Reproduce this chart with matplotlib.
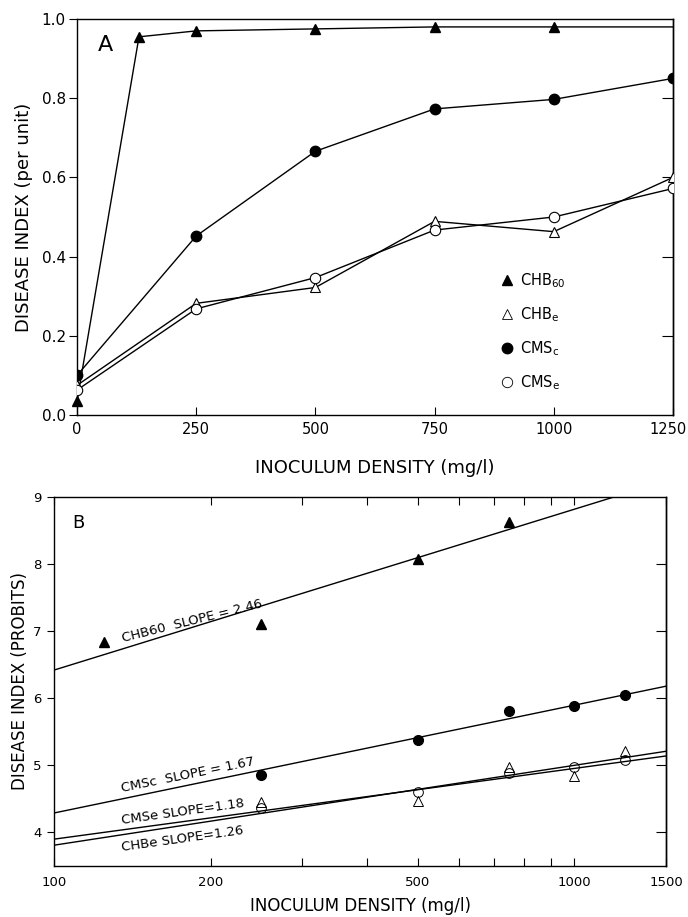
import numpy as np
import matplotlib
matplotlib.use("Agg")
import matplotlib.pyplot as plt
import matplotlib.transforms as mtransforms
from matplotlib.lines import Line2D

plt.rcParams['font.family'] = ['DejaVu Sans']

# Panel A: disease index (per unit) vs inoculum density
dens_chb60_a = [0, 130, 250, 500, 750, 1000, 1250]
chb60_a = [0.035, 0.955, 0.97, 0.975, 0.98, 0.98, 0.98]
dens_a = [0, 250, 500, 750, 1000, 1250]
chbe_a = [0.075, 0.282, 0.322, 0.489, 0.463, 0.600]
cmsc_a = [0.10, 0.452, 0.666, 0.773, 0.797, 0.850]
cmse_a = [0.063, 0.268, 0.347, 0.467, 0.500, 0.572]

# Panel B: probits vs log density
dens_chb60_b = [125, 250, 500, 750]
chb60_b = [6.84, 7.11, 8.07, 8.62]
dens_b = [250, 500, 750, 1000, 1250]
cmsc_b = [4.86, 5.38, 5.81, 5.88, 6.05]
chbe_b = [4.45, 4.47, 4.98, 4.84, 5.22]
cmse_b = [4.37, 4.61, 4.89, 4.98, 5.08]

# fitted probit lines, value at 100 and at 1500 mg/l
fit_x = [100, 1500]
fit_chb60 = [6.42, 9.24]
fit_cmsc = [4.29, 6.18]
fit_cmse = [3.90, 5.14]
fit_chbe = [3.81, 5.21]

fig = plt.figure(figsize=(6.88, 9.17), dpi=100)

# ---------- panel A ----------
ax1 = fig.add_axes([77/688, 1-415/917, 596/688, 396/917])
lw = 1.0
ax1.plot(dens_chb60_a, chb60_a, color='k', lw=lw, marker='^', ms=7,
         mfc='k', mec='k', markevery=slice(0, 6), clip_on=False, zorder=3)
ax1.plot(dens_a, cmsc_a, color='k', lw=lw, marker='o', ms=7.5,
         mfc='k', mec='k', zorder=3)
ax1.plot(dens_a, chbe_a, color='k', lw=lw, marker='^', ms=7.5,
         mfc='white', mec='k', mew=0.8, zorder=3)
ax1.plot(dens_a, cmse_a, color='k', lw=lw, marker='o', ms=7.5,
         mfc='white', mec='k', mew=0.8, zorder=3)

ax1.set_xlim(0, 1250)
ax1.set_ylim(0, 1.0)
ax1.set_xticks([0, 250, 500, 750, 1000, 1250])
ax1.set_yticks([0, 0.2, 0.4, 0.6, 0.8, 1.0])
ax1.set_yticklabels(['0.0', '0.2', '0.4', '0.6', '0.8', '1.0'])
ax1.tick_params(axis='x', direction='in', length=6, width=0.8,
                labelsize=10.5, pad=5)
ax1.tick_params(axis='y', direction='out', length=6, width=0.8,
                labelsize=11, pad=2)
# nudge the last x label so it stays inside the figure
last = ax1.get_xticklabels()[-1]
last.set_transform(last.get_transform() +
                   mtransforms.ScaledTranslation(-5/100, 0, fig.dpi_scale_trans))
r1 = ax1.secondary_yaxis('right')
r1.set_yticks([0.2, 0.4, 0.6, 0.8])
r1.tick_params(direction='in', length=8, width=0.8, labelright=False)
for s in list(ax1.spines.values()) + list(r1.spines.values()):
    s.set_linewidth(1.0)

ax1.set_xlabel('INOCULUM DENSITY (mg/l)', fontsize=13, labelpad=16)
ax1.set_ylabel('DISEASE INDEX (per unit)', fontsize=13, labelpad=6)
ax1.text(0.035, 0.92, 'A', transform=ax1.transAxes, fontsize=16)

handles = [
    Line2D([], [], ls='none', marker='^', ms=7, mfc='k', mec='k'),
    Line2D([], [], ls='none', marker='^', ms=7, mfc='white', mec='k', mew=0.6),
    Line2D([], [], ls='none', marker='o', ms=7.5, mfc='k', mec='k'),
    Line2D([], [], ls='none', marker='o', ms=7.5, mfc='white', mec='k', mew=0.6),
]
labels = [r'CHB$_{\mathregular{60}}$', r'CHB$_{\mathregular{e}}$',
          r'CMS$_{\mathregular{c}}$', r'CMS$_{\mathregular{e}}$']
ax1.legend(handles, labels, loc='lower left', bbox_to_anchor=(0.69, 0.025),
           frameon=False, fontsize=10.5, handlelength=0.8, handletextpad=0.5,
           labelspacing=1.05)

# ---------- panel B ----------
ax2 = fig.add_axes([54/688, 1-866/917, 612/688, 369/917])
ax2.set_xscale('log')
for fy in (fit_chb60, fit_cmsc, fit_cmse, fit_chbe):
    ax2.plot(fit_x, fy, color='k', lw=1.0)
ax2.plot(dens_chb60_b, chb60_b, ls='none', marker='^', ms=6.5,
         mfc='k', mec='k', zorder=3)
ax2.plot(dens_b, cmsc_b, ls='none', marker='o', ms=7, mfc='k', mec='k',
         zorder=3)
ax2.plot(dens_b, chbe_b, ls='none', marker='^', ms=7, mfc='none', mec='k',
         mew=0.7, zorder=3)
ax2.plot(dens_b, cmse_b, ls='none', marker='o', ms=7, mfc='none', mec='k',
         mew=0.7, zorder=3)

ax2.set_xlim(100, 1500)
ax2.set_ylim(3.5, 9)
ax2.set_xticks([100, 200, 500, 1000, 1500])
ax2.set_xticklabels(['100', '200', '500', '1000', '1500'])
ax2.set_xticks([300, 400, 600, 700, 800, 900], minor=True)
ax2.set_xticklabels([], minor=True)
ax2.set_yticks([4, 5, 6, 7, 8, 9])
ax2.tick_params(axis='x', which='both', direction='in', top=True,
                length=6, width=0.8, labelsize=9.5, pad=7)
ax2.tick_params(axis='y', direction='out', length=5, width=0.8,
                labelsize=9.5, pad=4)
r2 = ax2.secondary_yaxis('right')
r2.set_yticks([4, 5, 6, 7, 8])
r2.tick_params(direction='in', length=7, width=0.8, labelright=False)
for s in list(ax2.spines.values()) + list(r2.spines.values()):
    s.set_linewidth(1.0)

ax2.set_xlabel('INOCULUM DENSITY (mg/l)', fontsize=12, labelpad=6)
ax2.set_ylabel('DISEASE INDEX (PROBITS)', fontsize=12, labelpad=3)
ax2.text(0.03, 0.915, 'B', transform=ax2.transAxes, fontsize=13)

kw = dict(fontsize=9.5, ha='left', va='baseline', rotation_mode='anchor')
ax2.text(136, 6.84, 'CHB60  SLOPE = 2.46', rotation=14, **kw)
ax2.text(135, 4.60, 'CMSc  SLOPE = 1.67', rotation=11.5, **kw)
ax2.text(135, 4.12, 'CMSe SLOPE=1.18', rotation=8, **kw)
ax2.text(135, 3.72, 'CHBe SLOPE=1.26', rotation=8, **kw)

fig.savefig('out.png', dpi=100)
